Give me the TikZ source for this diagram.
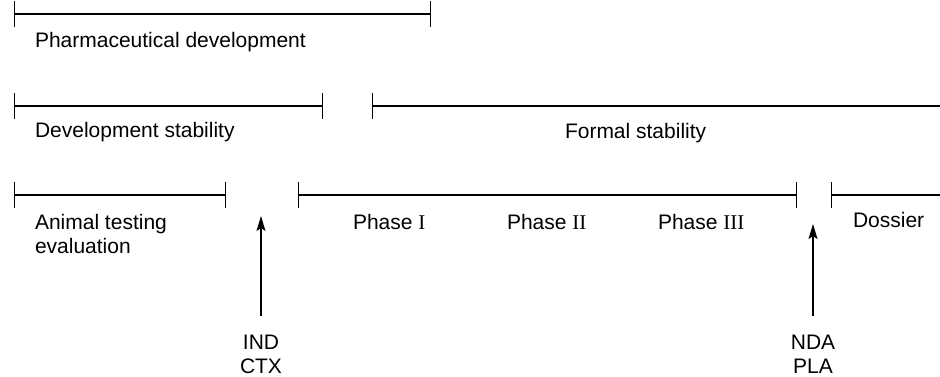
\documentclass[tikz,border=0pt]{standalone}
\usepackage{fontspec}
\setmainfont{Liberation Sans}
\newfontfamily\rmnum{Liberation Serif}
\usetikzlibrary{arrows.meta}
\begin{document}
\begin{tikzpicture}[x=1pt,y=-1pt,
  every node/.style={inner sep=0pt,outer sep=0pt,font=\fontsize{21}{24}\selectfont},
  lbl/.style={anchor=base west},
  both/.style={line width=1.4pt,{Bar[width=26pt,line width=1.4pt]}-{Bar[width=26pt,line width=1.4pt]}},
  leftonly/.style={line width=1.4pt,{Bar[width=26pt,line width=1.4pt]}-},
  arr/.style={line width=1.4pt,-{Stealth[length=15pt,width=9pt,inset=3pt]}},
  evt/.style={anchor=base,align=center}]
\useasboundingbox (0,0) rectangle (940,376);
% row 1
\coordinate (pa) at (14,14); \coordinate (pb) at (431,14);
\draw[both] (pa) -- (pb);
\node[lbl] (pharm) at (35,47) {Pharmaceutical development};
% row 2
\coordinate (da) at (14,106); \coordinate (db) at (323,106);
\coordinate (fa) at (372,106); \coordinate (fb) at (940,106);
\draw[both] (da) -- (db);
\draw[leftonly] (fa) -- (fb);
\node[lbl] (dev) at (35,137) {Development stability};
\node[lbl] (formal) at (565,138) {Formal stability};
% row 3
\coordinate (aa) at (14,195); \coordinate (ab) at (226,195);
\coordinate (ca) at (298,195); \coordinate (cb) at (797,195);
\coordinate (sa) at (831,195); \coordinate (sb) at (940,195);
\draw[both] (aa) -- (ab);
\draw[both] (ca) -- (cb);
\draw[leftonly] (sa) -- (sb);
\node[lbl,align=left] (animal) at (35,253) {Animal testing\\evaluation};
\node[lbl] (ph1) at (353,229) {Phase {\rmnum I}};
\node[lbl] (ph2) at (507,229) {Phase {\rmnum II}};
\node[lbl] (ph3) at (658,229) {Phase {\rmnum III}};
\node[lbl] (dossier) at (853,227) {Dossier};
% events
\coordinate (indtip) at (261,216);
\coordinate (ndatip) at (813,224);
\node[evt] (ind) at (261,373) {IND\\CTX};
\node[evt] (nda) at (813,373) {NDA\\PLA};
\draw[arr,shorten <=19pt] (ind.north) -- (indtip);
\draw[arr,shorten <=19pt] (nda.north) -- (ndatip);
\end{tikzpicture}
\end{document}
